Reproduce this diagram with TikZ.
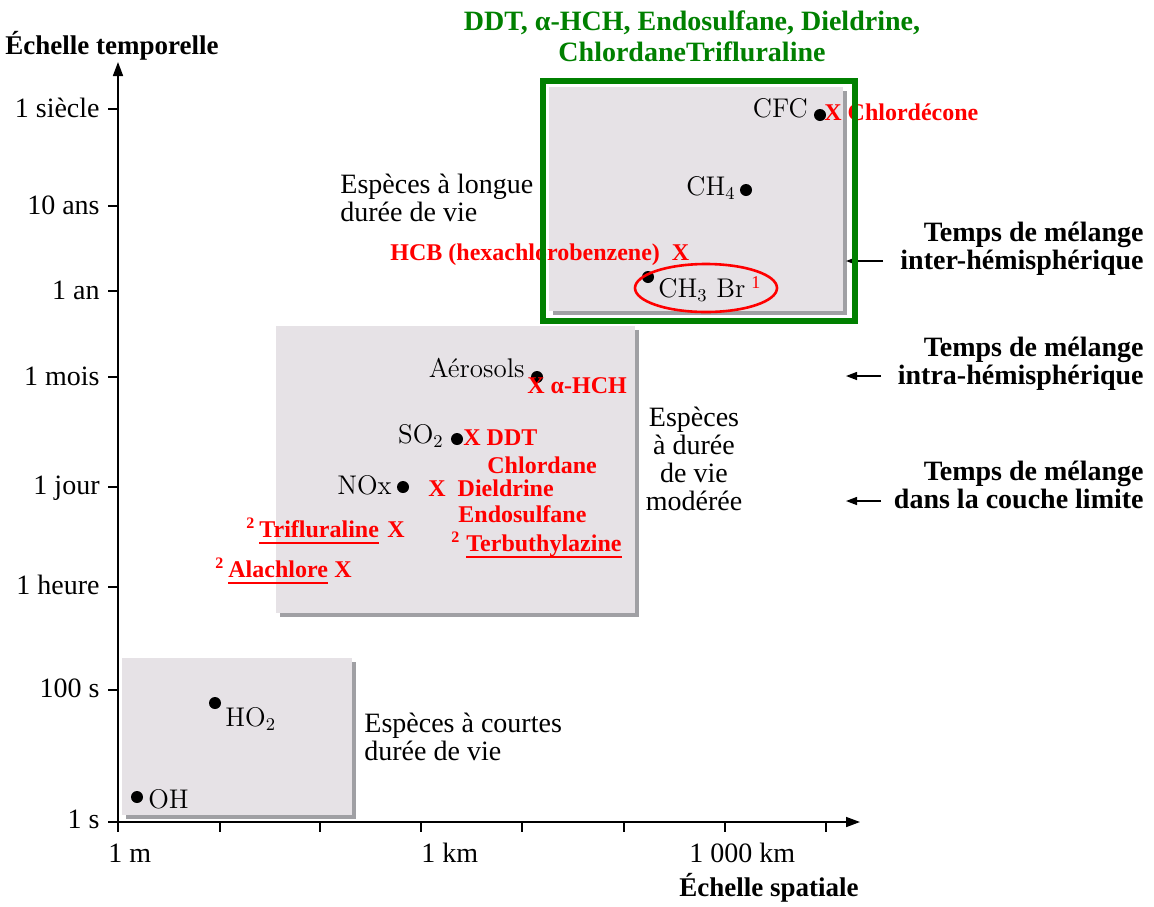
\documentclass[tikz,border=0pt]{standalone}
\usepackage{fontspec}
\newfontfamily\tnr{Liberation Serif}
\usetikzlibrary{arrows.meta}
\definecolor{boxfill}{RGB}{230,226,230}
\definecolor{shadowc}{RGB}{160,160,164}
\definecolor{vert}{RGB}{0,128,0}
\definecolor{rouge}{RGB}{255,0,0}
\begin{document}
\begin{tikzpicture}[x=0.5pt,y=-0.5pt,
 lab/.style={font=\tnr\fontsize{14}{14}\selectfont, inner sep=0pt},
 blab/.style={font=\tnr\bfseries\fontsize{14}{14}\selectfont, inner sep=0pt},
 ttl/.style={font=\tnr\bfseries\fontsize{13.5}{15}\selectfont, inner sep=0pt},
 chem/.style={font=\fontsize{13.5}{15}\selectfont, inner sep=0pt},
 rlab/.style={font=\tnr\bfseries\fontsize{12}{14}\selectfont, text=rouge, inner sep=0pt},
 rsup/.style={font=\tnr\bfseries\fontsize{8}{9}\selectfont, text=rouge, inner sep=0pt},
 glab/.style={font=\tnr\bfseries\fontsize{14}{15.5}\selectfont, text=vert, inner sep=0pt},
 dot/.style={circle, fill=black, inner sep=0pt, minimum size=6pt},
 axis/.style={line width=0.8pt, -{Triangle[length=7pt,width=5pt]}},
 tickm/.style={line width=0.6pt},
 ptr/.style={line width=0.7pt, -{Triangle[length=5.5pt,width=4pt]}},
 uline/.style={rouge, line width=1.2pt},
]
\useasboundingbox (0,0) rectangle (1154,906);

% boxes with shadow
\fill[shadowc] (126,662) rectangle (356,819);
\fill[boxfill] (122,658) rectangle (352,815);
\fill[shadowc] (280,330) rectangle (639,617);
\fill[boxfill] (276,326) rectangle (635,613);
\fill[shadowc] (553,91) rectangle (847,315);
\fill[boxfill] (549,87) rectangle (843,311);

% axes
\draw[axis] (118,822) -- (860,822);
\draw[axis] (118,822) -- (118,62);
\foreach \yy in {109,206,291,377,487,587,690,822} \draw[tickm] (108,\yy) -- (118,\yy);
\foreach \xx in {118,220,320,421,522,624,725,826} \draw[tickm] (\xx,822) -- (\xx,832);

% axis titles
\node[ttl, anchor=base] (ytitle) at (112,54) {Échelle temporelle};
\node[ttl, anchor=base] (xtitle) at (769,896) {Échelle spatiale};

% y tick labels
\node[lab, anchor=base east] (ty1) at (100,117) {1 siècle};
\node[lab, anchor=base east] (ty2) at (100,214) {10 ans};
\node[lab, anchor=base east] (ty3) at (100,299) {1 an};
\node[lab, anchor=base east] (ty4) at (100,385) {1 mois};
\node[lab, anchor=base east] (ty5) at (100,494) {1 jour};
\node[lab, anchor=base east] (ty6) at (100,594) {1 heure};
\node[lab, anchor=base east] (ty7) at (100,697) {100 s};
\node[lab, anchor=base east] (ty8) at (100,828) {1 s};

% x tick labels
\node[lab, anchor=base west] (tx1) at (108,862) {1 m};
\node[lab, anchor=base west] (tx2) at (421,862) {1 km};
\node[lab, anchor=base west] (tx3) at (689,862) {1 000 km};

% group labels (base = last line)
\node[lab, align=left, anchor=base west] (glong) at (340,221) {Espèces à longue\\durée de vie};
\node[lab, align=center, anchor=base] (gmod) at (694,510) {Espèces\\à durée\\de vie\\modérée};
\node[lab, align=left, anchor=base west] (gshort) at (364,760) {Espèces à courtes\\durée de vie};

% mixing times
\node[blab, align=right, anchor=base east] (mix1) at (1144,269) {Temps de mélange\\inter-hémisphérique};
\node[blab, align=right, anchor=base east] (mix2) at (1144,384) {Temps de mélange\\intra-hémisphérique};
\node[blab, align=right, anchor=base east] (mix3) at (1144,508) {Temps de mélange\\dans la couche limite};
\coordinate (a1s) at (883,261); \coordinate (a1e) at (846,261);
\coordinate (a2s) at (881,376); \coordinate (a2e) at (846,376);
\coordinate (a3s) at (881,501); \coordinate (a3e) at (846,501);
\draw[ptr] (a1s) -- (a1e);
\draw[ptr] (a2s) -- (a2e);
\draw[ptr] (a3s) -- (a3e);

% species dots and labels
\node[dot] (cfc) at (820,115) {};
\node[chem, anchor=base east] (cfcl) at (808,117) {CFC};
\node[dot] (ch4) at (746,190) {};
\node[chem, anchor=base east] (ch4l) at (736,195) {CH$_4$};
\node[dot] (ch3br) at (648,277) {};
\node[chem, anchor=base west] (ch3brl) at (658,297) {CH$_3$ Br};
\node[dot] (aer) at (537,377) {};
\node[chem, anchor=base east] (aerl) at (525,377) {Aérosols};
\node[dot] (so2) at (457,439) {};
\node[chem, anchor=base east] (so2l) at (444,443) {SO$_2$};
\node[dot] (nox) at (403,487) {};
\node[chem, anchor=base east] (noxl) at (392,494) {NOx};
\node[dot] (ho2) at (215,703) {};
\node[chem, anchor=base west] (ho2l) at (225,726) {HO$_2$};
\node[dot] (oh) at (137,797) {};
\node[chem, anchor=base west] (ohl) at (148,808) {OH};

% red annotations
\node[rlab, anchor=base west] (chlordecone) at (824,120) {X Chlordécone};
\node[rlab, anchor=base west] (hcb) at (390,260) {HCB (hexachlorobenzene)~~X};
\node[font=\tnr\fontsize{9}{10}\selectfont, text=rouge, inner sep=0pt, anchor=base west] (one) at (751,288) {1};
\node[rlab, anchor=base west] (ahch) at (527,393) {X α-HCH};
\node[rlab, anchor=base west] (ddt) at (463,445) {X DDT};
\node[rlab, anchor=base west] (chlordane) at (487,473) {Chlordane};
\node[rlab, anchor=base west] (dieldrine) at (428,496) {X~~Dieldrine};
\node[rlab, anchor=base west] (endo) at (458,522) {Endosulfane};
\node[rsup, anchor=base west] (s2a) at (451,542) {2};
\node[rlab, anchor=base west] (terb) at (466,551) {Terbuthylazine};
\node[rsup, anchor=base west] (s2b) at (246,528) {2};
\node[rlab, anchor=base west] (trif) at (259,537) {Trifluraline};
\node[rlab, anchor=base west] (xtrif) at (387,537) {X};
\node[rsup, anchor=base west] (s2c) at (215,568) {2};
\node[rlab, anchor=base west] (alach) at (228,577) {Alachlore};
\node[rlab, anchor=base west] (xalach) at (334,577) {X};
\draw[uline] ([yshift=-3pt]terb.base west) -- ([yshift=-3pt]terb.base east);
\draw[uline] ([yshift=-3pt]trif.base west) -- ([yshift=-3pt]trif.base east);
\draw[uline] ([yshift=-3pt]alach.base west) -- ([yshift=-3pt]alach.base east);

% CH3Br ellipse
\draw[rouge, line width=1.3pt] (706,288) ellipse [x radius=71, y radius=24];

% green frame and title
\draw[vert, line width=2.7pt] (543,81) rectangle (855,321);
\node[glab, align=center, anchor=base] (gtitle) at (692,61) {DDT, α-HCH, Endosulfane, Dieldrine,\\ChlordaneTrifluraline};
\end{tikzpicture}
\end{document}
